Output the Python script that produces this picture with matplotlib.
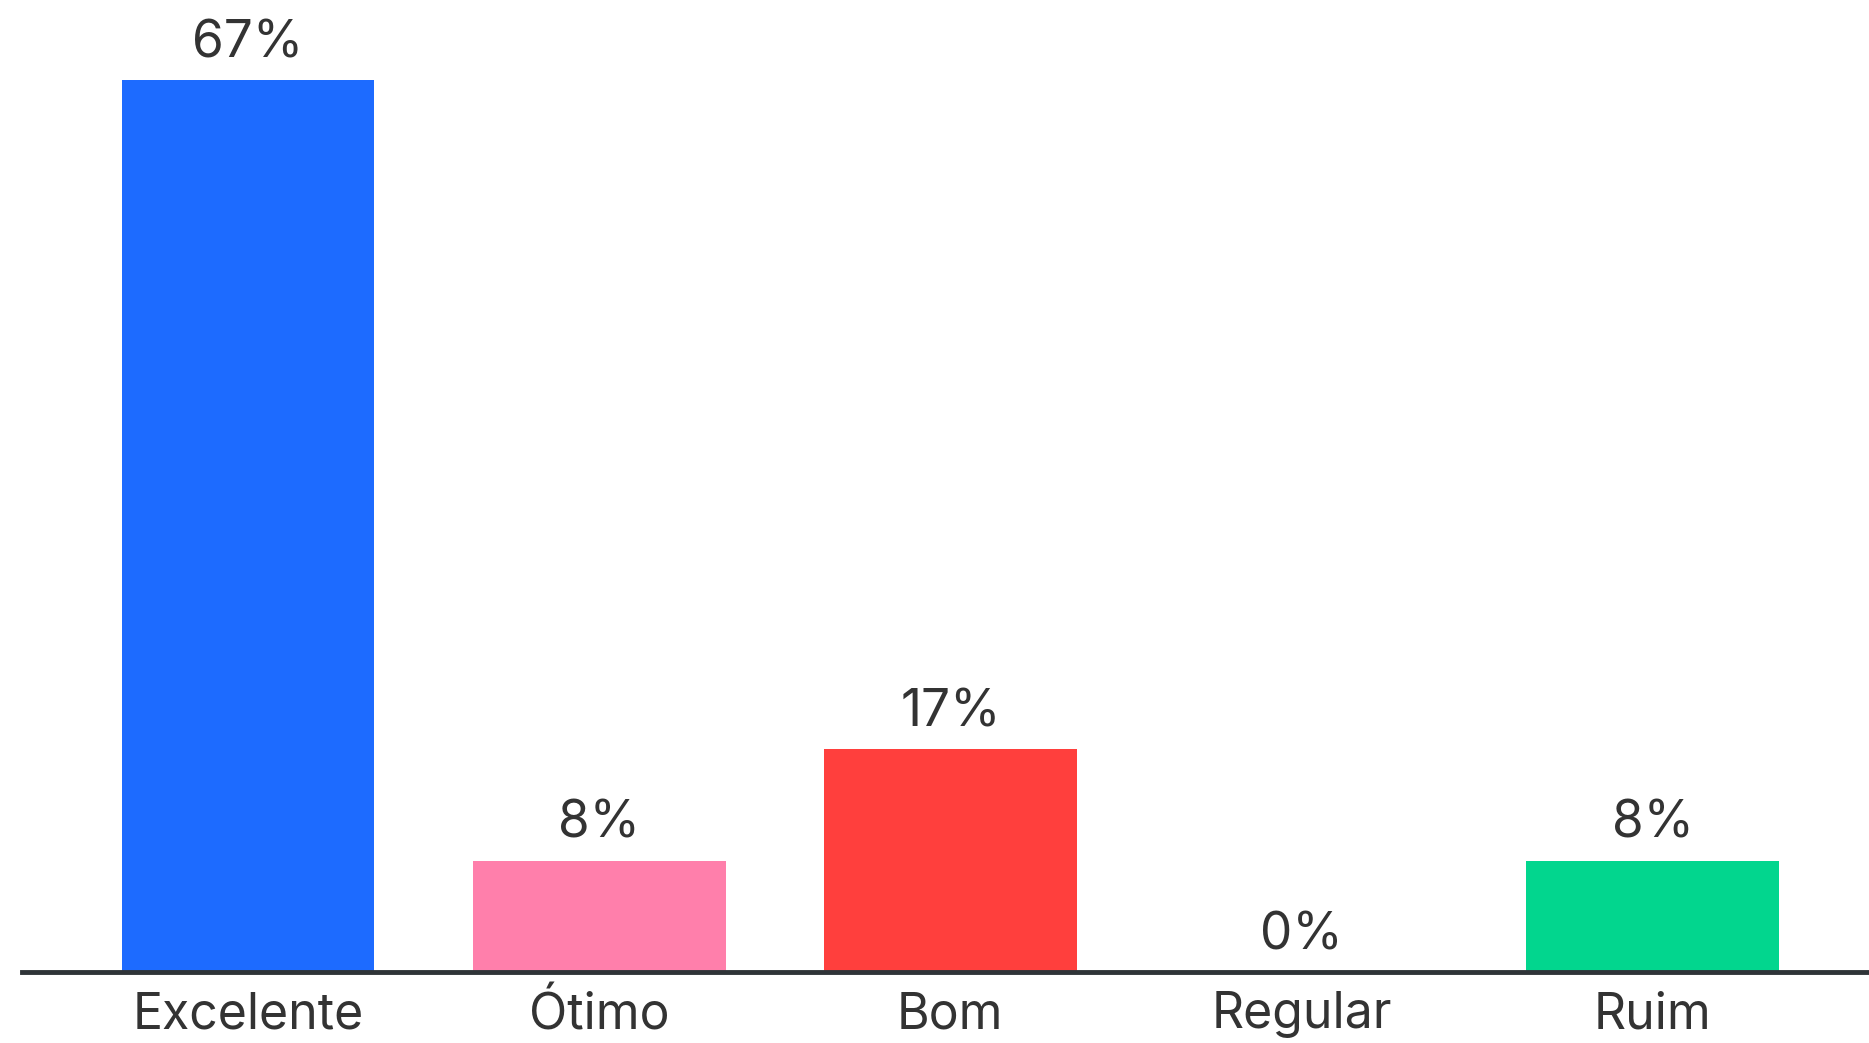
import matplotlib.pyplot as plt

# dados (percentuais)
categorias = ['Excelente', 'Ótimo', 'Bom', 'Regular', 'Ruim']
valores = [66.67, 8.33, 16.67, 0.0, 8.33]
rotulos = ['67%', '8%', '17%', '0%', '8%']
cores = ['#1d6bff', '#ff7fab', '#ff3f3d', '#cccccc', '#02d68e']

plt.rcParams['font.family'] = ['Inter', 'DejaVu Sans']

fig = plt.figure(figsize=(18.69, 10.43), dpi=100)
ax = fig.add_axes([22 / 1869, 71 / 1043, 1 - 22 / 1869, 972 / 1043])

x = list(range(len(categorias)))
ax.bar(x, valores, width=0.72, color=cores, zorder=2)

for xi, v, r in zip(x, valores, rotulos):
    ax.annotate(r, xy=(xi, v), xytext=(0, 16.5), textcoords='offset points',
                ha='center', va='baseline', fontsize=37, color='#333333')

ax.set_xlim(-0.6435, 4.616)
ax.set_ylim(0, 72.65)

ax.set_xticks(x)
ax.set_xticklabels(categorias, fontsize=36, color='#333333')
ax.tick_params(axis='x', length=0, pad=14)
ax.set_yticks([])

for s in ['top', 'right', 'left']:
    ax.spines[s].set_visible(False)
ax.spines['bottom'].set_linewidth(3.5)
ax.spines['bottom'].set_color('#2f3438')
ax.spines['bottom'].set_zorder(3)

fig.savefig('out.png', dpi=100, facecolor='white')
